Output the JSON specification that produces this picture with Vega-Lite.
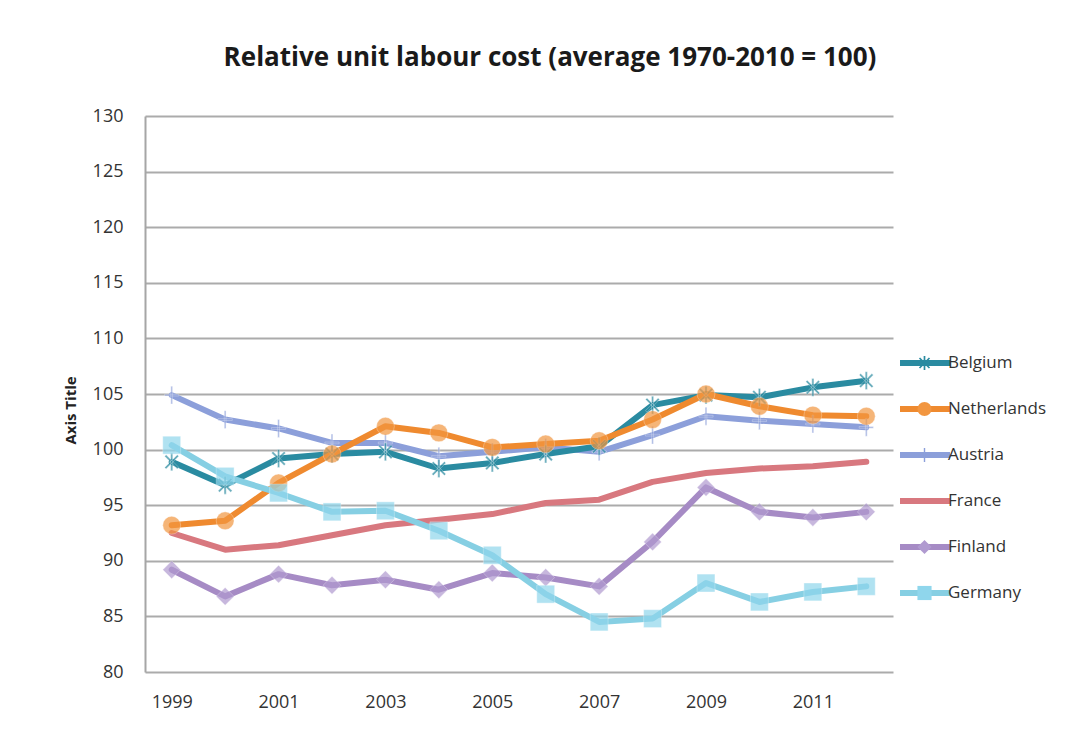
{
  "$schema": "https://vega.github.io/schema/vega-lite/v6.json",
  "width": 748,
  "height": 556,
  "autosize": {"type": "none"},
  "padding": {"left": 145, "top": 116, "right": 195, "bottom": 64},
  "background": "white",
  "config": {"view": {"stroke": null}, "font": "Open Sans"},
  "title": {
    "text": "Relative unit labour cost (average 1970-2010 = 100)",
    "font": "Open Sans",
    "fontSize": 26,
    "fontWeight": "bold",
    "color": "#1a1a1a",
    "anchor": "middle",
    "dx": 31,
    "offset": 36
  },
  "data": {
    "values": [
      {"country": "France", "year": 1999, "value": 92.5},
      {"country": "France", "year": 2000, "value": 91.0},
      {"country": "France", "year": 2001, "value": 91.4},
      {"country": "France", "year": 2002, "value": 92.3},
      {"country": "France", "year": 2003, "value": 93.2},
      {"country": "France", "year": 2004, "value": 93.7},
      {"country": "France", "year": 2005, "value": 94.2},
      {"country": "France", "year": 2006, "value": 95.2},
      {"country": "France", "year": 2007, "value": 95.5},
      {"country": "France", "year": 2008, "value": 97.1},
      {"country": "France", "year": 2009, "value": 97.9},
      {"country": "France", "year": 2010, "value": 98.3},
      {"country": "France", "year": 2011, "value": 98.5},
      {"country": "France", "year": 2012, "value": 98.9},
      {"country": "Austria", "year": 1999, "value": 104.9},
      {"country": "Austria", "year": 2000, "value": 102.7},
      {"country": "Austria", "year": 2001, "value": 101.9},
      {"country": "Austria", "year": 2002, "value": 100.6},
      {"country": "Austria", "year": 2003, "value": 100.6},
      {"country": "Austria", "year": 2004, "value": 99.4},
      {"country": "Austria", "year": 2005, "value": 99.8},
      {"country": "Austria", "year": 2006, "value": 100.2},
      {"country": "Austria", "year": 2007, "value": 99.8},
      {"country": "Austria", "year": 2008, "value": 101.3},
      {"country": "Austria", "year": 2009, "value": 103.0},
      {"country": "Austria", "year": 2010, "value": 102.6},
      {"country": "Austria", "year": 2011, "value": 102.3},
      {"country": "Austria", "year": 2012, "value": 102.0},
      {"country": "Belgium", "year": 1999, "value": 98.9},
      {"country": "Belgium", "year": 2000, "value": 96.8},
      {"country": "Belgium", "year": 2001, "value": 99.2},
      {"country": "Belgium", "year": 2002, "value": 99.6},
      {"country": "Belgium", "year": 2003, "value": 99.8},
      {"country": "Belgium", "year": 2004, "value": 98.3},
      {"country": "Belgium", "year": 2005, "value": 98.8},
      {"country": "Belgium", "year": 2006, "value": 99.6},
      {"country": "Belgium", "year": 2007, "value": 100.3},
      {"country": "Belgium", "year": 2008, "value": 104.0},
      {"country": "Belgium", "year": 2009, "value": 104.9},
      {"country": "Belgium", "year": 2010, "value": 104.7},
      {"country": "Belgium", "year": 2011, "value": 105.6},
      {"country": "Belgium", "year": 2012, "value": 106.2},
      {"country": "Finland", "year": 1999, "value": 89.2},
      {"country": "Finland", "year": 2000, "value": 86.8},
      {"country": "Finland", "year": 2001, "value": 88.8},
      {"country": "Finland", "year": 2002, "value": 87.8},
      {"country": "Finland", "year": 2003, "value": 88.3},
      {"country": "Finland", "year": 2004, "value": 87.4},
      {"country": "Finland", "year": 2005, "value": 88.9},
      {"country": "Finland", "year": 2006, "value": 88.5},
      {"country": "Finland", "year": 2007, "value": 87.7},
      {"country": "Finland", "year": 2008, "value": 91.7},
      {"country": "Finland", "year": 2009, "value": 96.6},
      {"country": "Finland", "year": 2010, "value": 94.4},
      {"country": "Finland", "year": 2011, "value": 93.9},
      {"country": "Finland", "year": 2012, "value": 94.4},
      {"country": "Netherlands", "year": 1999, "value": 93.2},
      {"country": "Netherlands", "year": 2000, "value": 93.6},
      {"country": "Netherlands", "year": 2001, "value": 97.0},
      {"country": "Netherlands", "year": 2002, "value": 99.6},
      {"country": "Netherlands", "year": 2003, "value": 102.1},
      {"country": "Netherlands", "year": 2004, "value": 101.5},
      {"country": "Netherlands", "year": 2005, "value": 100.2},
      {"country": "Netherlands", "year": 2006, "value": 100.5},
      {"country": "Netherlands", "year": 2007, "value": 100.8},
      {"country": "Netherlands", "year": 2008, "value": 102.7},
      {"country": "Netherlands", "year": 2009, "value": 105.0},
      {"country": "Netherlands", "year": 2010, "value": 103.9},
      {"country": "Netherlands", "year": 2011, "value": 103.1},
      {"country": "Netherlands", "year": 2012, "value": 103.0},
      {"country": "Germany", "year": 1999, "value": 100.4},
      {"country": "Germany", "year": 2000, "value": 97.6},
      {"country": "Germany", "year": 2001, "value": 96.1},
      {"country": "Germany", "year": 2002, "value": 94.4},
      {"country": "Germany", "year": 2003, "value": 94.5},
      {"country": "Germany", "year": 2004, "value": 92.7},
      {"country": "Germany", "year": 2005, "value": 90.5},
      {"country": "Germany", "year": 2006, "value": 87.0},
      {"country": "Germany", "year": 2007, "value": 84.5},
      {"country": "Germany", "year": 2008, "value": 84.8},
      {"country": "Germany", "year": 2009, "value": 88.0},
      {"country": "Germany", "year": 2010, "value": 86.3},
      {"country": "Germany", "year": 2011, "value": 87.2},
      {"country": "Germany", "year": 2012, "value": 87.7}
    ]
  },
  "encoding": {
    "x": {
      "field": "year",
      "type": "quantitative",
      "scale": {"domain": [1998.5, 2012.5], "nice": false, "zero": false},
      "axis": {
        "title": null,
        "values": [1999, 2001, 2003, 2005, 2007, 2009, 2011],
        "format": "d",
        "grid": false,
        "ticks": false,
        "domain": false,
        "labelFont": "Open Sans",
        "labelFontSize": 18,
        "labelColor": "#333333",
        "labelPadding": 21
      }
    },
    "y": {
      "field": "value",
      "type": "quantitative",
      "scale": {"domain": [80, 130], "nice": false, "zero": false},
      "axis": {
        "title": "Axis Title",
        "titleFont": "Open Sans",
        "titleFontSize": 15,
        "titleFontWeight": "bold",
        "titleColor": "#222222",
        "titleX": -75,
        "titleY": 294,
        "titleAngle": -90,
        "titleAlign": "center",
        "titleBaseline": "middle",
        "values": [80, 85, 90, 95, 100, 105, 110, 115, 120, 125, 130],
        "ticks": false,
        "labelFont": "Open Sans",
        "labelFontSize": 18,
        "labelColor": "#333333",
        "labelPadding": 22,
        "domainColor": "#a6a6a6",
        "domainWidth": 2,
        "gridColor": "#ababab",
        "gridWidth": 2
      }
    }
  },
  "layer": [
    {
      "mark": {"type": "line", "strokeWidth": 6, "strokeCap": "round", "strokeJoin": "round"},
      "encoding": {
        "stroke": {
          "field": "country",
          "type": "nominal",
          "sort": ["Belgium", "Netherlands", "Austria", "France", "Finland", "Germany"],
          "scale": {
            "range": ["#2a8ba1", "#ef8a2f", "#8c9fda", "#d8787f", "#a68bc5", "#86cfe3"]
          },
          "legend": {
            "title": null,
            "orient": "none",
            "legendX": 752,
            "legendY": 237,
            "symbolType": "stroke",
            "symbolSize": 2500,
            "symbolStrokeWidth": 6,
            "clipHeight": 20,
            "rowPadding": 26,
            "padding": 0,
            "labelFont": "Open Sans",
            "labelFontSize": 17,
            "labelColor": "#333333",
            "labelOffset": -5
          }
        }
      }
    },
    {
      "mark": {"type": "point", "filled": true, "size": 320, "stroke": "white", "strokeWidth": 0.8, "strokeOpacity": 0.5},
      "encoding": {
        "fill": {
          "field": "country",
          "type": "nominal",
          "scale": {
            "domain": ["Belgium", "Netherlands", "Austria", "France", "Finland", "Germany"],
            "range": ["#2a8ba1", "#f29640", "#8c9fda", "#d8787f", "#b09ad0", "#8fd6ec"]
          },
          "legend": {
            "title": null,
            "orient": "none",
            "legendX": 771,
            "legendY": 237,
            "symbolSize": 200,
            "symbolStrokeColor": "white",
            "symbolStrokeWidth": 0.8,
            "symbolOpacity": 1,
            "clipHeight": 20,
            "rowPadding": 26,
            "padding": 0,
            "labelFont": "Open Sans",
            "labelFontSize": 17,
            "labelExpr": "''"
          }
        },
        "shape": {
          "field": "country",
          "type": "nominal",
          "scale": {
            "domain": ["Belgium", "Netherlands", "Austria", "France", "Finland", "Germany"],
            "range": [
              "M-0.12,-1L0.12,-1L0.12,1L-0.12,1ZM0.622,0.792L0.792,0.622L-0.622,-0.792L-0.792,-0.622ZM0.792,-0.622L0.622,-0.792L-0.792,0.622L-0.622,0.792Z",
              "circle",
              "M-0.1,-1L0.1,-1L0.1,1L-0.1,1ZM-0.8,-0.1L0.8,-0.1L0.8,0.1L-0.8,0.1Z",
              "M0,0L0,0Z",
              "diamond",
              "square"
            ]
          },
          "legend": {
            "title": null,
            "orient": "none",
            "legendX": 771,
            "legendY": 237,
            "symbolSize": 200,
            "symbolStrokeColor": "white",
            "symbolStrokeWidth": 0.8,
            "symbolOpacity": 1,
            "clipHeight": 20,
            "rowPadding": 26,
            "padding": 0,
            "labelFont": "Open Sans",
            "labelFontSize": 17,
            "labelExpr": "''"
          }
        }
      }
    }
  ]
}
